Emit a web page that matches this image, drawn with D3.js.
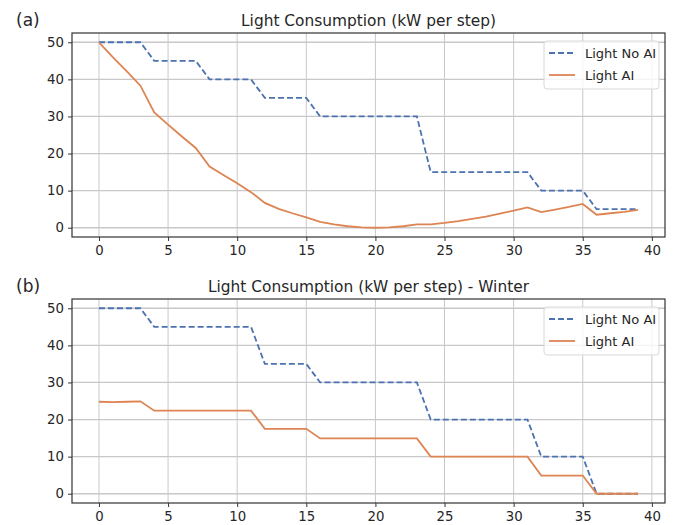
<!DOCTYPE html>
<html><head><meta charset="utf-8">
<script src="https://cdn.jsdelivr.net/npm/d3@7"></script>
<style>body{margin:0;background:#fff}text{font-family:"DejaVu Sans",sans-serif;fill:#262626}</style>
</head><body>
<svg id="c" width="675" height="525"></svg>
<script>
const steps = d3.range(0, 40);
const noAiA = [50,50,50,50,45,45,45,45,40,40,40,40,35,35,35,35,30,30,30,30,30,30,30,30,15,15,15,15,15,15,15,15,10,10,10,10,5,5,5,5];
const aiA = [50,46,42.2,38.3,31.1,27.8,24.6,21.5,16.5,14.2,12.0,9.6,6.7,5.1,3.9,2.8,1.6,0.9,0.4,0.1,0,0.1,0.4,0.9,0.9,1.3,1.8,2.4,3.0,3.8,4.6,5.5,4.2,4.9,5.6,6.4,3.5,3.9,4.3,4.8];
const noAiB = [50,50,50,50,45,45,45,45,45,45,45,45,35,35,35,35,30,30,30,30,30,30,30,30,20,20,20,20,20,20,20,20,10,10,10,10,0,0,0,0];
const aiB = [24.8,24.7,24.8,24.9,22.4,22.4,22.4,22.4,22.4,22.4,22.4,22.4,17.5,17.5,17.5,17.5,14.9,14.9,14.9,14.9,14.9,14.9,14.9,14.9,10,10,10,10,10,10,10,10,4.9,4.9,4.9,4.9,0,0,0,0];
const xTicks = [0,5,10,15,20,25,30,35,40];
const yTicks = [0,10,20,30,40,50];
const seriesNames = ["Light No AI","Light AI"];
const colors = ["#4c72b0","#dd8452"];

const svg = d3.select("#c");
function panel(top, label, title, s1, s2){
  const L=72, R=665, T=top, B=top+204;
  const x = d3.scaleLinear().domain([-1.95,40.95]).range([L,R]);
  const y = d3.scaleLinear().domain([-2.5,52.5]).range([B,T]);
  const g = svg.append("g");
  g.selectAll(".vg").data(xTicks).join("line").attr("x1",d=>x(d)).attr("x2",d=>x(d)).attr("y1",T).attr("y2",B).attr("stroke","#c8c8c8").attr("stroke-width",1);
  g.selectAll(".hg").data(yTicks).join("line").attr("y1",d=>y(d)).attr("y2",d=>y(d)).attr("x1",L).attr("x2",R).attr("stroke","#c8c8c8").attr("stroke-width",1.3);
  const xa = g.append("g").attr("transform",`translate(0,${B})`).call(d3.axisBottom(x).tickValues(xTicks).tickSize(4).tickPadding(5));
  const ya = g.append("g").attr("transform",`translate(${L},0)`).call(d3.axisLeft(y).tickValues(yTicks).tickSize(4).tickPadding(4));
  [xa,ya].forEach(a=>{a.select(".domain").remove();a.selectAll("text").attr("font-size",13.3).attr("fill","#262626").style("font-family","DejaVu Sans");a.selectAll("line").attr("stroke","#333");});
  g.append("rect").attr("x",L).attr("y",T).attr("width",R-L).attr("height",B-T).attr("fill","none").attr("stroke","#333").attr("stroke-width",1.2);
  const line = d3.line().x((d,i)=>x(steps[i])).y(d=>y(d));
  g.append("path").datum(s1).attr("d",line).attr("fill","none").attr("stroke",colors[0]).attr("stroke-width",1.8).attr("stroke-dasharray","6,3");
  g.append("path").datum(s2).attr("d",line).attr("fill","none").attr("stroke",colors[1]).attr("stroke-width",1.8);
  g.append("text").attr("x",(L+R)/2).attr("y",T-7).attr("text-anchor","middle").attr("font-size",15.4).text(title);
  g.append("text").attr("x",16).attr("y",T-7).attr("font-size",17).attr("fill","#000").text(label);
  const lg = g.append("g").attr("transform",`translate(544,${T+8})`);
  lg.append("rect").attr("width",115).attr("height",48).attr("rx",3).attr("fill","#fff").attr("fill-opacity",0.8).attr("stroke","#d8d8d8");
  seriesNames.forEach((n,i)=>{
    const yy = 12+i*22;
    lg.append("line").attr("x1",5).attr("x2",31).attr("y1",yy).attr("y2",yy).attr("stroke",colors[i]).attr("stroke-width",1.8).attr("stroke-dasharray",i===0?"6,3":null);
    lg.append("text").attr("x",41).attr("y",yy+5).attr("font-size",13).text(n);
  });
}
panel(33,"(a)","Light Consumption (kW per step)",noAiA,aiA);
panel(299,"(b)","Light Consumption (kW per step) - Winter",noAiB,aiB);
</script>
</body></html>
